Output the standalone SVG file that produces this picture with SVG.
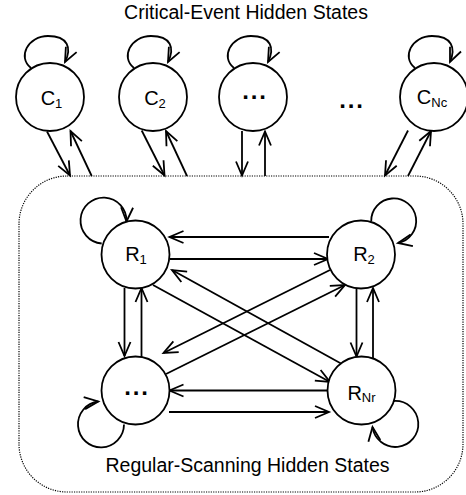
<svg xmlns="http://www.w3.org/2000/svg" width="466" height="495" viewBox="0 0 466 495">
<defs>
<style>
.n{fill:#fff;stroke:#000;stroke-width:1.8}
.c{fill:none;stroke:#000;stroke-width:1.8;marker-end:url(#ah)}
.t{font-family:"Liberation Sans",Arial,sans-serif;font-size:19.5px;fill:#000;text-anchor:middle}
.l{font-size:20px}
.s{font-size:13px}
.d{font-family:"Liberation Sans",Arial,sans-serif;font-size:24px;font-weight:bold;fill:#000;text-anchor:middle;letter-spacing:1.8px}
.b{fill:none;stroke:#000;stroke-width:1.2;stroke-dasharray:1.2 1.2}
</style>
<marker id="ah" viewBox="-16 -8 18 16" markerWidth="18" markerHeight="16" refX="0" refY="0" orient="auto" markerUnits="userSpaceOnUse" style="overflow:visible">
<path d="M-14,-6 L0,0 L-14,6" fill="none" stroke="#000" stroke-width="1.8"/>
</marker>
</defs>
<rect width="466" height="495" fill="#fff"/>
<text class="t" x="246" y="19">Critical-Event Hidden States</text>
<rect id="regular-group" class="b" x="19" y="176" width="444" height="316" rx="48" ry="48"/>
<text class="t" x="247.5" y="472">Regular-Scanning Hidden States</text>
<text class="d" x="352" y="108">...</text>

<g id="connectors">
<path class="c" d="M47,131.5 L70,175.5"/>
<path class="c" d="M91.7,176 L70.5,131"/>
<path class="c" d="M141.7,130.5 L164.5,175.5"/>
<path class="c" d="M187,176 L166,131"/>
<path class="c" d="M242,131 L242,175.5"/>
<path class="c" d="M265,176 L265,131.5"/>
<path class="c" d="M408,130.5 L385,175.5"/>
<path class="c" d="M408,176 L431,131"/>

<path class="c" d="M170,259 L328,259"/>
<path class="c" d="M329,237 L169.5,237"/>
<path class="c" d="M327.5,390.5 L169.5,390.5"/>
<path class="c" d="M169,412 L329,412"/>
<path class="c" d="M124.5,288 L124.5,356"/>
<path class="c" d="M141.5,357 L141.5,288"/>
<path class="c" d="M356.5,288.5 L356.5,356.5"/>
<path class="c" d="M373,358 L373,288"/>

<path class="c" d="M153,285 L330,382"/>
<path class="c" d="M341,363.5 L172,270"/>
<path class="c" d="M330,270 L163.5,353"/>
<path class="c" d="M166,374 L345,285"/>

<path class="c" d="M31,68 C17,57 28,36 48,36 C68,36 72,48 65,62"/>
<path class="c" d="M134,68 C120,57 131,36 151,36 C171,36 175,48 168,62"/>
<path class="c" d="M234,68 C220,57 231,36 251,36 C271,36 275,48 268,62"/>
<path class="c" d="M415,68 C401,57 412,36 432,36 C452,36 456,48 450,62"/>

<path class="c" d="M101.7,243.5 A23,23 0 1 1 126.5,221.5"/>
<path class="c" d="M371.2,221.5 A22.5,22.5 0 1 1 398,243"/>
<path class="c" d="M124,424.5 A23,23 0 1 1 98.3,401.5"/>
<path class="c" d="M394,401 A23,23 0 1 1 372.5,427"/>
</g>

<g id="C1"><circle class="n" cx="50" cy="97" r="34"/><text class="t l" x="51.5" y="104.5">C<tspan class="s" dy="3">1</tspan></text></g>
<g id="C2"><circle class="n" cx="153" cy="97" r="34"/><text class="t l" x="155" y="104.5">C<tspan class="s" dy="3">2</tspan></text></g>
<g id="C3"><circle class="n" cx="253" cy="97" r="34"/><text class="d" x="255" y="99">...</text></g>
<g id="CNc"><circle class="n" cx="434" cy="97" r="34"/><text class="t l" x="432" y="104">C<tspan class="s" dy="3">Nc</tspan></text></g>

<g id="R1"><circle class="n" cx="135.5" cy="254.5" r="34"/><text class="t l" x="136" y="261">R<tspan class="s" dy="3">1</tspan></text></g>
<g id="R2"><circle class="n" cx="361" cy="254.5" r="34"/><text class="t l" x="364" y="261">R<tspan class="s" dy="3">2</tspan></text></g>
<g id="R3"><circle class="n" cx="135.5" cy="390.5" r="34"/><text class="d" x="137" y="394.5">...</text></g>
<g id="RNr"><circle class="n" cx="361.5" cy="390.5" r="34"/><text class="t l" x="361.5" y="400">R<tspan class="s" dy="2">Nr</tspan></text></g>
</svg>
